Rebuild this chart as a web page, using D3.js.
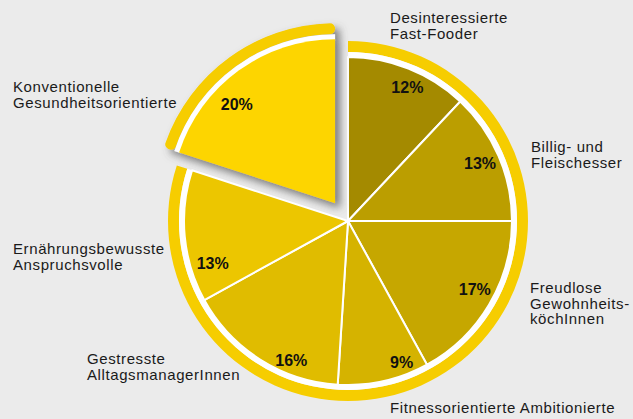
<!DOCTYPE html>
<html>
<head>
<meta charset="utf-8">
<script src="https://cdn.jsdelivr.net/npm/d3@7"></script>
<style>
body { margin: 0; background: #ebebeb; }
svg { display: block; }
</style>
</head>
<body>
<script>
var width = 633, height = 419;
var cx = 348, cy = 221;
var rSlice = 164, rWhite = 169, rRing = 180;

// data, clockwise from 12 o'clock
var segments = ["Desinteressierte Fast-Fooder", "Billig- und Fleischesser", "Freudlose Gewohnheits-köchInnen",
  "Fitnessorientierte Ambitionierte", "Gestresste AlltagsmanagerInnen", "Ernährungsbewusste Anspruchsvolle",
  "Konventionelle Gesundheitsorientierte"];
var shares = [12, 13, 17, 9, 16, 13, 20];
var labelLines = [
  ["Desinteressierte", "Fast-Fooder"],
  ["Billig- und", "Fleischesser"],
  ["Freudlose", "Gewohnheits-", "köchInnen"],
  ["Fitnessorientierte Ambitionierte"],
  ["Gestresste", "AlltagsmanagerInnen"],
  ["Ernährungsbewusste", "Anspruchsvolle"],
  ["Konventionelle", "Gesundheitsorientierte"]
];
var colors = ["#a48a00", "#bb9e00", "#c6a700", "#d5b300", "#e0bc00", "#ecc600", "#fdd500"];
var explodedIndex = 6;

// layout tweaks (relative to pie centre / centroid)
var pctNudge = [[6, 1], [-1, 0], [2, -6], [22, 0], [21, 17], [9, 29], [-13, 18]];
var outerPos = [[42, -198], [183, -69], [182, 72], [42, 192], [-261, 143], [-335, 33], [-335, -129]];

var svg = d3.select("body").append("svg")
  .attr("width", width)
  .attr("height", height);

svg.append("rect").attr("width", width).attr("height", height).attr("fill", "#ebebeb");

var defs = svg.append("defs");
var shadow = defs.append("filter").attr("id", "shadow")
  .attr("x", "-30%").attr("y", "-30%").attr("width", "160%").attr("height", "160%");
shadow.append("feDropShadow")
  .attr("dx", 5).attr("dy", 5).attr("stdDeviation", 4)
  .attr("flood-color", "#555").attr("flood-opacity", 0.75);

var pie = d3.pie().sort(null).value(function(d) { return d; });
var arcs = pie(shares);

var sliceArc = d3.arc().innerRadius(0).outerRadius(rSlice);
var labelArc = d3.arc().innerRadius(145).outerRadius(145);

var g = svg.append("g").attr("transform", "translate(" + cx + "," + cy + ")");

var mainArcs = arcs.filter(function(d, i) { return i !== explodedIndex; });
var mainStart = d3.min(mainArcs, function(d) { return d.startAngle; });
var mainEnd = d3.max(mainArcs, function(d) { return d.endAngle; });

// outer ring of the main pie
g.append("path")
  .attr("fill", "#f6cd00")
  .attr("d", d3.arc()({innerRadius: rWhite, outerRadius: rRing, startAngle: mainStart, endAngle: mainEnd}));
g.append("path")
  .attr("fill", "#fff")
  .attr("d", d3.arc()({innerRadius: 0, outerRadius: rWhite, startAngle: mainStart, endAngle: mainEnd}));

g.selectAll("path.slice")
  .data(mainArcs)
  .enter().append("path")
  .attr("class", "slice")
  .attr("fill", function(d) { return colors[d.index]; })
  .attr("stroke", "#fff")
  .attr("stroke-width", 2)
  .attr("stroke-linejoin", "round")
  .attr("d", sliceArc);

// exploded slice
var ex = arcs[explodedIndex];
var mid = (ex.startAngle + ex.endAngle) / 2;
var exOff = 22;
var exX = Math.sin(mid) * exOff, exY = -Math.cos(mid) * exOff;

var eg = g.append("g")
  .attr("transform", "translate(" + exX + "," + exY + ")")
  .attr("filter", "url(#shadow)");
eg.append("path")
  .attr("fill", "#f6cd00")
  .attr("d", d3.arc().cornerRadius(5)({innerRadius: rWhite, outerRadius: rRing, startAngle: ex.startAngle, endAngle: ex.endAngle}));
eg.append("path")
  .attr("fill", "#fff")
  .attr("d", d3.arc()({innerRadius: rSlice - 2, outerRadius: rWhite, startAngle: ex.startAngle, endAngle: ex.endAngle}));
eg.append("path")
  .attr("fill", colors[explodedIndex])
  .attr("d", sliceArc(ex));

// percent labels
g.selectAll("text.pct")
  .data(arcs)
  .enter().append("text")
  .attr("class", "pct")
  .attr("transform", function(d, i) {
    var c = labelArc.centroid(d);
    var ox = i === explodedIndex ? exX : 0, oy = i === explodedIndex ? exY : 0;
    return "translate(" + (c[0] + ox + pctNudge[i][0]) + "," + (c[1] + oy + pctNudge[i][1]) + ")";
  })
  .attr("text-anchor", "middle")
  .attr("dy", "0.36em")
  .style("font-family", "'Liberation Sans', Arial, sans-serif")
  .style("font-weight", "bold")
  .style("font-size", "16px")
  .attr("fill", "#111")
  .text(function(d) { return d.data + "%"; });

// category labels
var lab = g.selectAll("text.cat")
  .data(arcs)
  .enter().append("text")
  .attr("class", "cat")
  .attr("x", function(d, i) { return outerPos[i][0]; })
  .attr("y", function(d, i) { return outerPos[i][1]; })
  .style("font-family", "'Liberation Sans', Arial, sans-serif")
  .style("font-size", "15px")
  .style("letter-spacing", "0.6px")
  .attr("fill", "#1a1a1a");

lab.selectAll("tspan")
  .data(function(d, i) { return labelLines[i].map(function(t) { return {t: t, i: i}; }); })
  .enter().append("tspan")
  .attr("x", function(d) { return outerPos[d.i][0]; })
  .attr("dy", function(d, j) { return j === 0 ? 0 : 15.5; })
  .text(function(d) { return d.t; });
</script>
</body>
</html>
